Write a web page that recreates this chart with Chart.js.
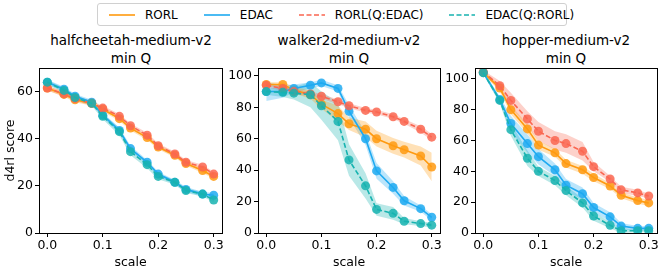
<!DOCTYPE html>
<html>
<head>
<meta charset="utf-8">
<script src="https://cdn.jsdelivr.net/npm/chart.js@4.4.0/dist/chart.umd.min.js"></script>
<style>
  body { margin: 0; background: #fff; font-family: "DejaVu Sans", sans-serif; }
  #wrap { position: relative; width: 664px; height: 273px; overflow: hidden; }
  .panel { position: absolute; }
  .title { position: absolute; width: 220px; text-align: center; font-size: 13.5px; line-height: 18px; color: #000; }
  #legend { position: absolute; left: 97px; top: 3px; width: 470px; height: 23px; border: 1px solid #d0d0d0; border-radius: 3px;
            box-sizing: border-box; display: flex; align-items: center; font-size: 12px; color: #000; }
  .item { display: flex; align-items: center; }
  .item svg { margin-right: 10px; }
</style>
</head>
<body>
<div id="wrap">
  <div id="legend"></div>
  <div class="title" style="left:21px;top:31px">halfcheetah-medium-v2<br>min Q</div>
  <div class="title" style="left:239px;top:31px">walker2d-medium-v2<br>min Q</div>
  <div class="title" style="left:456px;top:31px">hopper-medium-v2<br>min Q</div>
  <div class="panel" id="p0"><canvas id="c0"></canvas></div>
  <div class="panel" id="p1"><canvas id="c1"></canvas></div>
  <div class="panel" id="p2"><canvas id="c2"></canvas></div>
</div>
<script>
const scales = [0, 0.03, 0.05, 0.08, 0.1, 0.13, 0.15, 0.18, 0.2, 0.23, 0.25, 0.28, 0.3];
const xTicks = [0, 0.1, 0.2, 0.3];

const seriesNames = ['RORL', 'EDAC', 'RORL(Q:EDAC)', 'EDAC(Q:RORL)'];
const seriesColors = ['#ff9a10', '#1eaaf1', '#fa6650', '#17b3b0'];
const seriesDashed = [false, false, true, true];

// halfcheetah-medium-v2
const hcRorl   = [61.5, 58.8, 56.5, 55, 52.5, 48.5, 44.5, 40.5, 36.5, 33, 29.5, 26.5, 24];
const hcEdac   = [64, 61, 58, 55.5, 50, 43.5, 35.8, 30, 25, 21.5, 18.5, 16.5, 16];
const hcRorlQ  = [61.5, 59, 57, 55, 53, 49.5, 45.5, 41.5, 37, 33.5, 30, 28, 25];
const hcEdacQ  = [64, 60.5, 57.5, 55, 49.5, 43, 34.5, 29, 24, 21.5, 18, 16.5, 14];
const hcRorlSd  = [1, 1, 1, 1, 1, 1, 1, 1, 1, 1, 1, 1, 1];
const hcEdacSd  = [1, 1, 1, 1, 1, 1.2, 1.2, 1, 1, 1, 1, 1, 1];
const hcRorlQSd = [1, 1, 1, 1, 1, 1, 1, 1, 1, 1, 1, 1, 1];
const hcEdacQSd = [1, 1, 1, 1, 1.2, 1.5, 1.5, 1.5, 1.2, 1, 1, 1, 1];

// walker2d-medium-v2
const wkRorl   = [94.5, 94.5, 91, 88, 82, 76, 69.5, 66, 60, 55.5, 53, 49, 42];
const wkEdac   = [90, 90, 92, 94, 95.5, 92, 77.5, 60, 39.5, 29, 20.5, 15.5, 10];
const wkRorlQ  = [94, 92, 90, 88.5, 87, 83.5, 81, 78, 77, 74, 71, 66, 61];
const wkEdacQ  = [90, 89.5, 89, 88, 81, 71, 46.5, 30, 15, 12.5, 7.5, 6, 5];
const wkRorlSd  = [1.5, 1.5, 2, 2.5, 3, 5, 4, 5, 5, 5, 5, 6, 9];
const wkEdacSd  = [6, 4, 2.5, 2, 2, 2, 4, 4, 5, 4, 3, 2, 2];
const wkRorlQSd = [1.5, 1.5, 1.5, 1.5, 1.5, 1.5, 1.5, 1.5, 1.5, 1.5, 1.5, 2, 2];
const wkEdacQSd = [2, 3, 4, 8, 9, 12, 10, 8, 4, 4, 2, 1.5, 1.5];

// hopper-medium-v2
const hpRorl   = [104, 94, 80, 67.5, 57, 52, 45, 41, 36, 30.5, 24.5, 21, 19.5];
const hpEdac   = [104, 86.5, 71, 58, 49.5, 41, 31, 25.5, 16.5, 10.5, 4.5, 3, 3];
const hpRorlQ  = [104.5, 95.5, 86, 74, 66, 60, 58, 53, 43, 35, 28, 26, 24];
const hpEdacQ  = [104, 86, 67, 48.5, 40, 34, 27.5, 19.5, 11, 5, 1.5, 1.5, 1.5];
const hpRorlSd  = [1, 2, 3, 3, 3, 2.5, 2.5, 2.5, 2.5, 2, 2, 2, 2];
const hpEdacSd  = [1, 2, 5, 6, 5, 4, 4, 4, 3, 3, 2, 1.5, 1.5];
const hpRorlQSd = [1, 3, 5, 5, 6, 6, 6, 6, 3, 2, 2, 2, 1.5];
const hpEdacQSd = [1, 2, 4, 5, 3, 3, 3, 3, 3, 2, 1.5, 1, 1];

const panels = [
  { means: [hcRorl, hcEdac, hcRorlQ, hcEdacQ], sds: [hcRorlSd, hcEdacSd, hcRorlQSd, hcEdacQSd],
    yMax: 70, yTicks: [0, 20, 40, 60], left: 39, right: 222, yLabel: 'd4rl score' },
  { means: [wkRorl, wkEdac, wkRorlQ, wkEdacQ], sds: [wkRorlSd, wkEdacSd, wkRorlQSd, wkEdacQSd],
    yMax: 105, yTicks: [0, 20, 40, 60, 80, 100], left: 258, right: 440, yLabel: '' },
  { means: [hpRorl, hpEdac, hpRorlQ, hpEdacQ], sds: [hpRorlSd, hpEdacSd, hpRorlQSd, hpEdacQSd],
    yMax: 107, yTicks: [0, 20, 40, 60, 80, 100], left: 475, right: 657, yLabel: '' },
];

function rgba(hex, a) {
  const n = parseInt(hex.slice(1), 16);
  return `rgba(${n >> 16},${(n >> 8) & 255},${n & 255},${a})`;
}

// legend
const legend = document.getElementById('legend');
seriesNames.forEach((name, i) => {
  const it = document.createElement('div');
  it.className = 'item';
  it.style.marginLeft = i === 0 ? '11px' : '26px';
  const dash = seriesDashed[i] ? 'stroke-dasharray="5,2.5"' : '';
  it.innerHTML = `<svg width="26" height="6"><line x1="0" y1="3" x2="26" y2="3" stroke="${seriesColors[i]}" stroke-width="1.6" ${dash}/></svg>${name}`;
  legend.appendChild(it);
});

const frame = {
  id: 'frame',
  afterDraw(chart) {
    const a = chart.chartArea, c = chart.ctx;
    c.save();
    c.strokeStyle = '#000';
    c.lineWidth = 1;
    c.strokeRect(Math.round(a.left) + 0.5, Math.round(a.top) + 0.5, Math.round(a.right - a.left), Math.round(a.bottom - a.top));
    c.restore();
  }
};

const TOP = 68, BOTTOM = 233, YW = 36, PADT = 10, PADR = 10, XH = 37;

panels.forEach((p, k) => {
  const div = document.getElementById('p' + k);
  const w = YW + (p.right - p.left) + PADR;
  const h = PADT + (BOTTOM - TOP) + XH;
  div.style.left = (p.left - YW) + 'px';
  div.style.top = (TOP - PADT) + 'px';
  div.style.width = w + 'px';
  div.style.height = h + 'px';

  const datasets = [];
  p.means.forEach((m, i) => {
    const col = seriesColors[i];
    datasets.push({
      data: scales.map((x, j) => ({ x, y: m[j] - p.sds[i][j] })),
      borderWidth: 0, pointRadius: 0, fill: false, order: 10
    });
    datasets.push({
      data: scales.map((x, j) => ({ x, y: m[j] + p.sds[i][j] })),
      borderWidth: 0, pointRadius: 0, fill: '-1', backgroundColor: rgba(col, 0.3), order: 10
    });
  });
  p.means.forEach((m, i) => {
    const col = seriesColors[i];
    datasets.push({
      label: seriesNames[i],
      data: scales.map((x, j) => ({ x, y: m[j] })),
      borderColor: col,
      borderWidth: 1.6,
      borderDash: seriesDashed[i] ? [5, 2.5] : [],
      pointRadius: 4.5,
      pointBackgroundColor: rgba(col, 0.85),
      pointBorderWidth: 0,
      fill: false,
      order: 4 - i
    });
  });

  new Chart(document.getElementById('c' + k), {
    type: 'line',
    data: { datasets },
    plugins: [frame],
    options: {
      responsive: true,
      maintainAspectRatio: false,
      animation: false,
      layout: { padding: { top: PADT, right: PADR, left: 0, bottom: 0 } },
      plugins: {
        legend: { display: false },
        tooltip: { enabled: false },
        filler: { drawTime: 'beforeDatasetsDraw' }
      },
      scales: {
        x: {
          type: 'linear', min: -0.015, max: 0.315,
          afterBuildTicks: s => { s.ticks = xTicks.map(v => ({ value: v })); },
          afterFit: s => { s.height = XH; },
          ticks: { color: '#000', font: { family: 'DejaVu Sans', size: 12.5 }, padding: 1, maxRotation: 0,
                   callback: v => v.toFixed(1) },
          grid: { display: true, drawOnChartArea: false, drawTicks: true, tickLength: 4, color: '#000' },
          border: { display: false },
          title: { display: true, text: 'scale', color: '#000', font: { family: 'DejaVu Sans', size: 12.5 }, padding: { top: 0, bottom: 0 } }
        },
        y: {
          min: 0, max: p.yMax,
          afterBuildTicks: s => { s.ticks = p.yTicks.map(v => ({ value: v })); },
          afterFit: s => { s.width = YW; },
          ticks: { color: '#000', font: { family: 'DejaVu Sans', size: 12.5 }, padding: 2 },
          grid: { display: true, drawOnChartArea: false, drawTicks: true, tickLength: 4, color: '#000' },
          border: { display: false },
          title: { display: p.yLabel !== '', text: p.yLabel, color: '#000', font: { family: 'DejaVu Sans', size: 12.5 }, padding: 0 }
        }
      }
    }
  });
});
</script>
</body>
</html>
